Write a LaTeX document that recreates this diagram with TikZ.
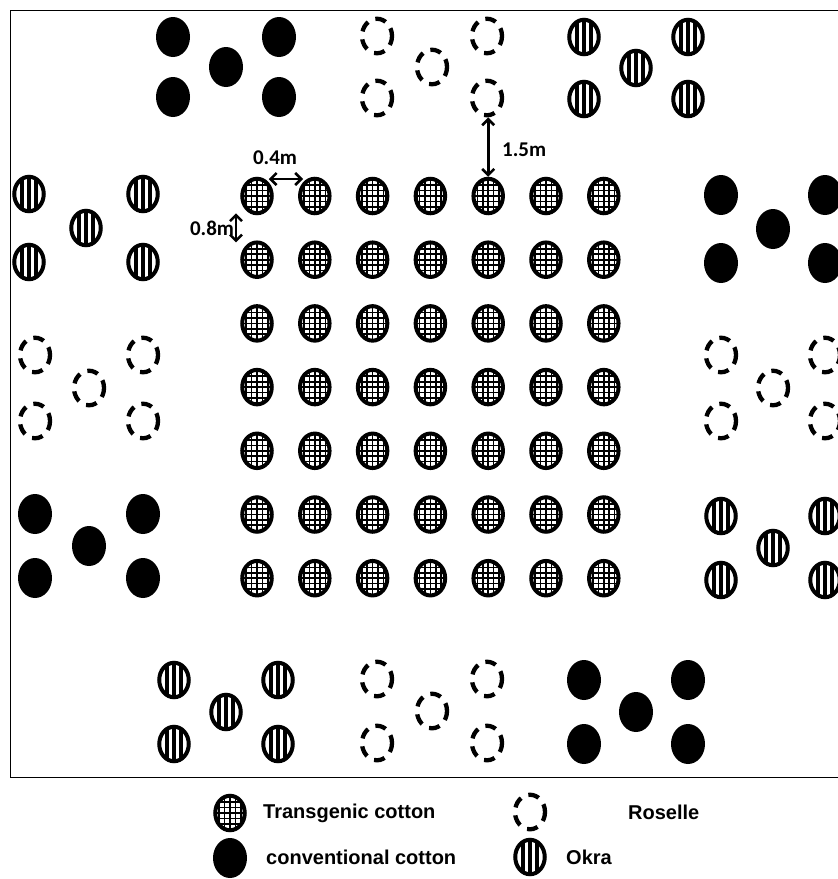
\documentclass[tikz,border=0pt]{standalone}
\usepackage{fontspec}
\setmainfont{Liberation Sans}
\newfontfamily\lblfont{Carlito}
\usetikzlibrary{shapes.geometric,arrows.meta}
\tikzset{
  plant/.style={ellipse, minimum width=29.5pt, minimum height=34.5pt, inner sep=0pt},
  tcot/.style={plant, draw, line width=4pt, fill=white,
    path picture={
      \foreach \i in {-3,...,3}{
        \draw[line width=1.7pt] ([xshift=\i*5.4pt]path picture bounding box.north) -- ([xshift=\i*5.4pt]path picture bounding box.south);
        \draw[line width=1.7pt] ([yshift=\i*5.4pt]path picture bounding box.west) -- ([yshift=\i*5.4pt]path picture bounding box.east);
      }}},
  ccot/.style={plant, fill=black, minimum width=34pt, minimum height=40pt},
  ros/.style={plant, draw, line width=4.3pt, minimum width=30pt, dash pattern=on 11pt off 8pt, dash phase=3pt},
  okra/.style={plant, draw, line width=4pt, fill=white,
    path picture={
      \foreach \i in {-1,0,1}{
        \draw[line width=3.4pt] ([xshift=\i*7pt]path picture bounding box.north) -- ([xshift=\i*7pt]path picture bounding box.south);
      }}},
  meas/.style={{Straight Barb[length=6pt,width=12pt,line width=2.6pt]}-{Straight Barb[length=6pt,width=12pt,line width=2.6pt]}, line width=2.8pt},
  lbl/.style={font=\lblfont\bfseries\fontsize{21}{25}\selectfont, inner sep=0pt},
  leg/.style={font=\bfseries\fontsize{20}{24}\selectfont, inner sep=0pt, anchor=west}
}
\begin{document}
\begin{tikzpicture}[x=1pt,y=-1pt]
\useasboundingbox (0,0) rectangle (838,879);
\fill[white] (0,0) rectangle (838,879);
% frame
\draw[line width=1.6pt] (840,10.5) -- (10.5,10.5) -- (10.5,777.5) -- (840,777.5);
% central transgenic cotton grid
\foreach \i in {1,...,7}{
  \foreach \j in {1,...,7}{
    \node[tcot] (c\i\j) at ({257+57.8*(\j-1)},{196+63.7*(\i-1)}) {};
  }
}
% surrounding groups
\foreach \t/\n/\cx/\cy/\dx/\dy in {
  ccot/ta/226/67/53/30, ros/tb/432/67/55/31, okra/tc/636/68/52/31,
  okra/la/86/228/57/34, ros/lb/89/388/54/33, ccot/lc/89/546/54/32,
  ccot/ra/773/229/52/34, ros/rb/773/388/52/33, okra/rc/773/548/52/32,
  okra/ba/226/712/52/32, ros/bb/432/711/55/32, ccot/bc/636/712/52/32}{
  \node[\t] (\n1) at (\cx-\dx,\cy-\dy) {};
  \node[\t] (\n2) at (\cx+\dx,\cy-\dy) {};
  \node[\t] (\n3) at (\cx,\cy) {};
  \node[\t] (\n4) at (\cx-\dx,\cy+\dy) {};
  \node[\t] (\n5) at (\cx+\dx,\cy+\dy) {};
}
% measurements
\draw[meas] ([xshift=-5pt,yshift=17pt]c11.east) -- ([xshift=5pt,yshift=17pt]c12.west);
\node[lbl] (l04) at (275,158) {0.4m};
\draw[meas] ([xshift=-21pt,yshift=2pt]c11.south) -- ([xshift=-21pt,yshift=-2pt]c21.north);
\node[lbl] (l08) at (212,228) {0.8m};
\draw[meas] (c15.north |- tb5.south) -- (c15.north);
\node[lbl, anchor=west] (l15) at (502,150) {1.5m};
% legend
\node[tcot] (k1) at (230,813) {};
\node[leg] (k1t) at (263,813) {Transgenic cotton};
\node[ccot] (k2) at (230,858) {};
\node[leg] (k2t) at (266,857) {conventional cotton};
\node[ros] (k3) at (530,812) {};
\node[leg] (k3t) at (628,812) {Roselle};
\node[okra] (k4) at (530,857) {};
\node[leg] (k4t) at (566,857) {Okra};
\end{tikzpicture}
\end{document}
